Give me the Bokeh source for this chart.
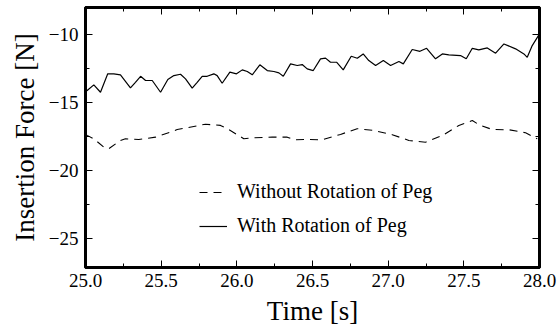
from bokeh.plotting import figure
from bokeh.models import (Range1d, SingleIntervalTicker, LinearAxis, Legend, LegendItem,
                          NumeralTickFormatter)
from bokeh.embed import file_html
from bokeh.resources import INLINE

# With Rotation of Peg (solid)
t_with = [25.000, 25.011, 25.055, 25.099, 25.147, 25.187, 25.231, 25.297, 25.330, 25.364,
          25.397, 25.441, 25.496, 25.544, 25.584, 25.628, 25.661, 25.705, 25.738, 25.771,
          25.804, 25.848, 25.870, 25.903, 25.954, 25.998, 26.036, 26.069, 26.102, 26.152,
          26.201, 26.245, 26.278, 26.307, 26.355, 26.399, 26.432, 26.465, 26.505, 26.553,
          26.586, 26.619, 26.659, 26.703, 26.756, 26.796, 26.835, 26.872, 26.917, 26.968,
          27.016, 27.071, 27.100, 27.159, 27.210, 27.254, 27.313, 27.358, 27.401, 27.478,
          27.516, 27.556, 27.599, 27.655, 27.710, 27.765, 27.842, 27.897, 27.919, 27.952,
          27.996]
f_with = [-14.21, -14.13, -13.72, -14.26, -12.91, -12.91, -12.98, -13.94, -13.53, -13.09,
          -13.40, -13.40, -14.26, -13.33, -13.04, -12.94, -13.28, -13.96, -13.53, -13.09,
          -13.09, -12.91, -13.04, -13.60, -12.79, -12.91, -12.62, -12.74, -12.98, -12.25,
          -12.67, -12.74, -12.84, -13.09, -12.18, -12.30, -12.23, -12.55, -12.67, -11.81,
          -11.76, -12.06, -12.06, -12.62, -11.62, -11.77, -11.45, -11.94, -12.30, -11.94,
          -12.30, -12.01, -12.18, -11.13, -11.26, -11.04, -11.81, -11.45, -11.52, -11.57,
          -11.81, -11.04, -11.16, -11.01, -11.40, -10.72, -11.08, -11.45, -11.70, -10.84,
          -10.06]

# Without Rotation of Peg (dashed)
t_without = [25.000, 25.011, 25.055, 25.121, 25.154, 25.231, 25.264, 25.352, 25.463, 25.562,
             25.606, 25.672, 25.793, 25.892, 25.937, 26.003, 26.046, 26.112, 26.234, 26.333,
             26.377, 26.465, 26.564, 26.685, 26.795, 26.905, 27.027, 27.137, 27.247, 27.358,
             27.467, 27.556, 27.600, 27.688, 27.798, 27.908, 27.985]
f_without = [-17.35, -17.42, -17.67, -18.28, -18.40, -17.79, -17.67, -17.72, -17.55, -17.18,
             -16.99, -16.86, -16.60, -16.69, -16.93, -17.37, -17.67, -17.59, -17.55, -17.55,
             -17.74, -17.72, -17.74, -17.35, -16.93, -17.06, -17.37, -17.79, -17.92, -17.43,
             -16.69, -16.33, -16.64, -16.99, -17.01, -17.23, -17.67]

FONT = "Liberation Serif"

p = figure(width=559, height=334, output_backend="svg", toolbar_location=None,
           x_range=Range1d(25.0, 28.0), y_range=Range1d(-27.1, -8.05),
           min_border_left=85, min_border_right=20, min_border_top=7, min_border_bottom=67)
p.background_fill_color = "white"
p.border_fill_color = "white"
p.grid.visible = False
p.outline_line_color = "black"
p.outline_line_width = 3

r_without = p.line(t_without, f_without, line_color="black", line_width=1.1, line_dash="8 6")
r_with = p.line(t_with, f_with, line_color="black", line_width=1.2)

xt = SingleIntervalTicker(interval=0.5, num_minor_ticks=2)
yt = SingleIntervalTicker(interval=5, num_minor_ticks=2)

def style(ax, labels=True):
    ax.axis_line_color = "black"
    ax.axis_line_width = 3
    ax.major_tick_in = 7
    ax.major_tick_out = 0
    ax.minor_tick_in = 4
    ax.minor_tick_out = 0
    ax.major_tick_line_color = "black"
    ax.minor_tick_line_color = "black"
    ax.major_label_text_font = FONT
    ax.major_label_text_font_size = "19px"
    ax.major_label_text_color = "black"
    ax.axis_label_text_font = FONT
    ax.axis_label_text_font_size = "27px"
    ax.axis_label_text_font_style = "normal"
    ax.axis_label_text_color = "black"
    if not labels:
        ax.major_label_text_font_size = "0px"
        ax.major_label_text_alpha = 0

xa = p.xaxis[0]
xa.ticker = xt
xa.formatter = NumeralTickFormatter(format="0.0")
xa.axis_label = "Time [s]"
style(xa)
xa.major_label_standoff = 6
xa.axis_label_standoff = 6

ya = p.yaxis[0]
ya.ticker = yt
ya.axis_label = "Insertion Force [N]"
style(ya)
ya.major_label_standoff = 7
ya.axis_label_standoff = 6

top = LinearAxis(ticker=SingleIntervalTicker(interval=0.5, num_minor_ticks=2))
style(top, labels=False)
top.major_label_standoff = 0
p.add_layout(top, "above")
right = LinearAxis(ticker=SingleIntervalTicker(interval=5, num_minor_ticks=2))
style(right, labels=False)
right.major_label_standoff = 0
p.add_layout(right, "right")
p.min_border_top = 7
p.min_border_right = 20

legend = Legend(items=[LegendItem(label="Without Rotation of Peg", renderers=[r_without]),
                       LegendItem(label="With Rotation of Peg", renderers=[r_with])],
                location=(114, 30))
legend.border_line_alpha = 0
legend.background_fill_alpha = 0
legend.padding = 0
legend.margin = 0
legend.glyph_width = 28
legend.glyph_height = 20
legend.label_height = 20
legend.label_standoff = 10
legend.spacing = 11
legend.label_text_font = FONT
legend.label_text_font_size = "20px"
legend.label_text_color = "black"
p.add_layout(legend, "center")

open("out.html", "w").write(file_html(p, INLINE))
